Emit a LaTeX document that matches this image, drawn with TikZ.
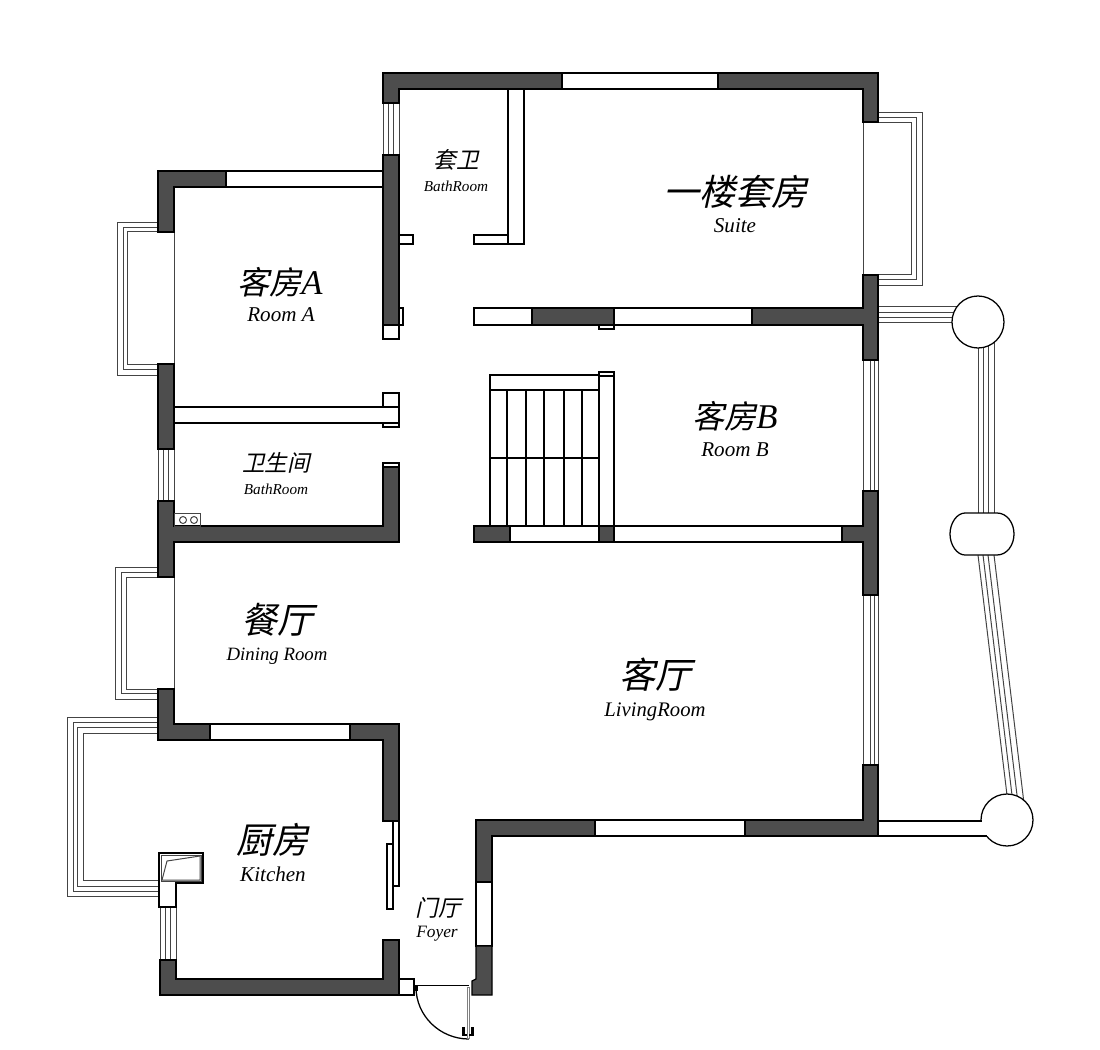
\documentclass[tikz,border=0pt]{standalone}
\usepackage{fontspec}
\setmainfont{Liberation Serif}
\newfontfamily\cjkfont[FakeSlant=0.22]{Noto Sans CJK SC}
\usepackage{tikz}
\usetikzlibrary{shapes,
                positioning}
\definecolor{wallgray}{HTML}{4D4D4D}
\definecolor{glassgray}{HTML}{444444}
\tikzset{wall/.style=
   {draw=black,
    fill=wallgray,
    line width=0.95pt,
    line join=miter}}
\tikzset{pane/.style=
   {draw=black,
    fill=white,
    line width=0.95pt}}
\tikzset{glass/.style = {draw=glassgray, line width=0.75pt}}
\tikzset{post/.style=
   {circle,
    draw,
    fill=white,
    line width=0.95pt,
    inner sep=0pt,
    minimum size=39pt}}
\tikzset{bigname/.style = {inner sep=0pt, font=\fontsize{27}{27}\cjkfont}}
\tikzset{roomname/.style = {inner sep=0pt, font=\fontsize{24}{24}\cjkfont}}
\tikzset{smallname/.style = {inner sep=0pt, font=\fontsize{17}{17}\cjkfont}}
\tikzset{bigtag/.style = {inner sep=0pt, anchor=base, font=\fontsize{15.8}{15.8}\selectfont\itshape}}
\tikzset{smalltag/.style = {inner sep=0pt, anchor=base, font=\fontsize{11.4}{11.4}\selectfont\itshape}}
\newcommand{\roomletter}[1]{{\normalfont\fontsize{26}{26}\selectfont\itshape #1}}

\begin{document}
\begin{tikzpicture}[x=0.75pt,y=-0.75pt]

    \useasboundingbox (0,0) rectangle (1100,1050);

    % Bay windows
    \foreach \a/\b/\c in {922/112/285, 916/117.5/279.5, 911/122/274}
        \draw [glass] (878,\b) -- (\a,\b) -- (\a,\c) -- (878,\c);
    \draw [glass] (863,122) -- (863,275);
    \foreach \a/\b/\c in {117/222/375, 123/227/369.5, 127/231.5/364}
        \draw [glass] (158,\b) -- (\a,\b) -- (\a,\c) -- (158,\c);
    \draw [glass] (174,232) -- (174,364);
    \foreach \a/\b/\c in {115/567/699, 121/572/693.5, 126/577/689}
        \draw [glass] (158,\b) -- (\a,\b) -- (\a,\c) -- (158,\c);
    \draw [glass] (174,577) -- (174,689);
    \foreach \a/\b/\c in {67/717/896, 73/722/891, 77/727/886, 83/733/880}
        \draw [glass] (158,\b) -- (\a,\b) -- (\a,\c) -- (160,\c);

    % Strip windows
    \foreach \a in {383,388,393,399}
        \draw [glass] (\a,103) -- (\a,155);
    \foreach \a in {158,163,168,174}
        \draw [glass] (\a,449) -- (\a,501);
    \foreach \a in {160,165,170,176}
        \draw [glass] (\a,907) -- (\a,960);
    \foreach \a in {863,870,874,878} {
        \draw [glass] (\a,360) -- (\a,491);
        \draw [glass] (\a,595) -- (\a,765);
    }

    % Balcony rails
    \foreach \a in {306,312,317,322}
        \draw [glass] (878,\a) -- (960,\a);
    \foreach \a in {978,983,988,994}
        \draw [glass] (\a,340) -- (\a,520);
    \foreach \a/\b in {978/1008.2, 983/1013.2, 988/1018.2, 994/1024.2}
        \draw [glass] (\a,555) -- (\b,805);
    \node [post] (postTop) at (978,322) {};
    \node [post] (postBottom) at (1007,820) {};
    \draw [pane] (965,513) -- (997,513) .. controls (1007,513) and (1014,523) .. (1014,534)
        .. controls (1014,545) and (1007,555) .. (997,555) -- (965,555)
        .. controls (957,555) and (950,545) .. (950,534)
        .. controls (950,523) and (957,513) .. (965,513) -- cycle;
    \fill [white] (878,821) rectangle (995,836);
    \draw [line width=0.95pt] (878,821) -- (982,821);
    \draw [line width=0.95pt] (878,836) -- (987,836);

    % Window panes
    \draw [pane] (562,73) rectangle (718,89);
    \draw [pane] (226,171) rectangle (383,187);
    \draw [pane] (210,724) rectangle (350,740);
    \draw [pane] (595,820) rectangle (745,836);
    \draw [pane] (476,882) rectangle (492,946);
    \draw [pane] (510,526) rectangle (599,542);
    \draw [pane] (614,526) rectangle (842,542);
    \draw [pane] (474,308) rectangle (532,325);
    \draw [pane] (614,308) rectangle (752,325);

    % Inner partitions
    \draw [pane] (399,235) rectangle (413,244);
    \draw [pane] (474,235) rectangle (508,244);
    \draw [pane] (508,89) rectangle (524,244);
    \draw [pane] (399,308) rectangle (403,325);
    \draw [pane] (383,325) rectangle (399,339);
    \draw [pane] (599,325) rectangle (614,329);
    \draw [pane] (383,393) rectangle (399,427);
    \draw [pane] (174,407) rectangle (399,423);
    \draw [pane] (383,463) rectangle (399,467);
    \draw [pane] (393,821) rectangle (399,886);
    \draw [pane] (387,844) rectangle (393,909);
    \draw [pane] (399,979) rectangle (414,995);

    % Stairs
    \draw [pane] (490,375) rectangle (599,390);
    \draw [pane] (599,372) rectangle (614,376);
    \draw [pane] (599,376) rectangle (614,526);
    \draw [pane] (490,390) rectangle (599,526);
    \foreach \a in {507,526,544,564,582}
        \draw [line width=0.95pt] (\a,390) -- (\a,526);
    \draw [line width=0.95pt] (490,458) -- (599,458);

    % Walls
    \draw [wall] (383,73) -- (562,73) -- (562,89) -- (399,89) -- (399,103) -- (383,103) -- cycle;
    \draw [wall] (718,73) -- (878,73) -- (878,122) -- (863,122) -- (863,89) -- (718,89) -- cycle;
    \draw [wall] (383,155) rectangle (399,325);
    \draw [wall] (158,171) -- (226,171) -- (226,187) -- (174,187) -- (174,232) -- (158,232) -- cycle;
    \draw [wall] (158,364) rectangle (174,449);
    \draw [wall] (158,501) -- (174,501) -- (174,526) -- (383,526) -- (383,467) -- (399,467)
        -- (399,542) -- (174,542) -- (174,577) -- (158,577) -- cycle;
    \draw [wall] (158,689) -- (174,689) -- (174,724) -- (210,724) -- (210,740) -- (158,740) -- cycle;
    \draw [wall] (350,724) -- (399,724) -- (399,821) -- (383,821) -- (383,740) -- (350,740) -- cycle;
    \draw [wall] (532,308) rectangle (614,325);
    \draw [wall] (752,308) -- (863,308) -- (863,275) -- (878,275) -- (878,360) -- (863,360)
        -- (863,325) -- (752,325) -- cycle;
    \draw [wall] (474,526) rectangle (510,542);
    \draw [wall] (599,526) rectangle (614,542);
    \draw [wall] (863,491) -- (878,491) -- (878,595) -- (863,595) -- (863,542) -- (842,542)
        -- (842,526) -- (863,526) -- cycle;
    \draw [wall] (745,820) -- (863,820) -- (863,765) -- (878,765) -- (878,836) -- (745,836) -- cycle;
    \draw [wall] (476,820) -- (595,820) -- (595,836) -- (492,836) -- (492,882) -- (476,882) -- cycle;
    \draw [wall] (476,946) -- (492,946) -- (492,995) -- (472,995) -- (472,981) -- (476,979) -- cycle;
    \draw [wall] (160,960) -- (176,960) -- (176,979) -- (383,979) -- (383,940) -- (399,940)
        -- (399,995) -- (160,995) -- cycle;

    % Fittings
    \draw [glass] (174,513) rectangle (200,526);
    \foreach \a in {183,194}
        \draw [glass] (\a,520) circle [radius=3.5];
    \draw [pane] (159,853) -- (203,853) -- (203,883) -- (176,883) -- (176,907) -- (159,907) -- cycle;
    \draw [glass] (161,855) rectangle (201,881);
    \draw [glass] (162,880) -- (167,861) -- (200,856) -- (200,880) -- cycle;

    % Door
    \draw [line width=0.95pt] (416,985.5) -- (469,985.5);
    \draw [line width=0.95pt] (416,987) .. controls (416,1016) and (440,1039) .. (469,1039);
    \draw [draw=gray, fill=white, line width=0.7pt] (467,987) rectangle (469.5,1038);
    \draw [line width=1.8pt] (463.5,1027) -- (463.5,1035) -- (467,1035);
    \draw [line width=1.8pt] (472.5,1027) -- (472.5,1035) -- (469,1035);
    \draw [line width=0.8pt] (415,986) rectangle (417,990);

    % Room names
    \node [bigname] (suiteName) at (735,192) {一楼套房};
    \node [bigtag] (suiteTag) at (735,232.5) {Suite};
    \node [smallname] (suiteBathName) at (456,160) {套卫};
    \node [smalltag] (suiteBathTag) at (456,191) {BathRoom};
    \node [roomname] (roomAName) at (280,282) {客房\roomletter{A}};
    \node [bigtag] (roomATag) at (281,321) {Room A};
    \node [smallname] (bathName) at (276,463) {卫生间};
    \node [smalltag] (bathTag) at (276,494) {BathRoom};
    \node [roomname] (roomBName) at (735,416) {客房\roomletter{B}};
    \node [bigtag] (roomBTag) at (735,456) {Room B};
    \node [bigname] (diningName) at (277,620) {餐厅};
    \node [bigtag, font=\fontsize{14.1}{14.1}\selectfont\itshape] (diningTag) at (277,660.5) {Dining Room};
    \node [bigname] (livingName) at (655,675) {客厅};
    \node [bigtag, font=\fontsize{15.5}{15.5}\selectfont\itshape] (livingTag) at (655,716.5) {LivingRoom};
    \node [bigname] (kitchenName) at (272,840) {厨房};
    \node [bigtag] (kitchenTag) at (273,881) {Kitchen};
    \node [smallname] (foyerName) at (438,908) {门厅};
    \node [smalltag, font=\fontsize{13}{13}\selectfont\itshape] (foyerTag) at (437,937.5) {Foyer};

\end{tikzpicture}
\end{document}
